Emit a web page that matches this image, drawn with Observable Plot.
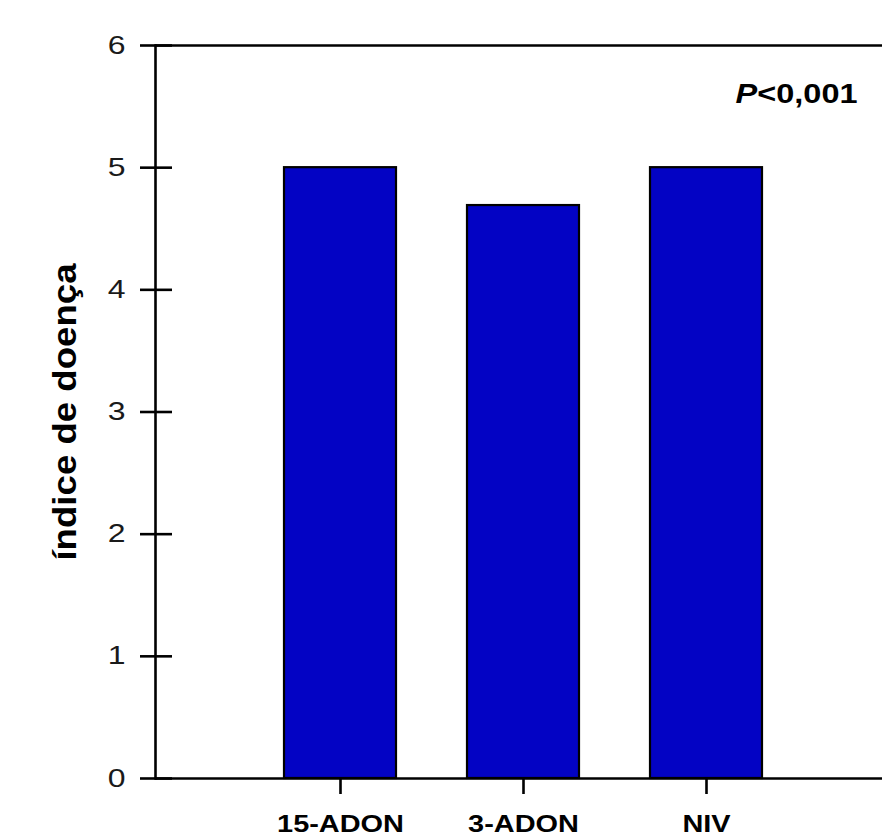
<!DOCTYPE html>
<html><head><meta charset="utf-8">
<script src="https://cdn.jsdelivr.net/npm/d3@7"></script>
<script src="https://cdn.jsdelivr.net/npm/@observablehq/plot@0.6"></script>
<style>
body{margin:0;background:#fff}
svg{font-family:"Liberation Sans",Arial,sans-serif}
</style>
</head><body><div id="chart"></div>
<script>
const categories = ["15-ADON", "3-ADON", "NIV"];
const values = [5.0, 4.69, 5.0];
const yTicks = [0, 1, 2, 3, 4, 5, 6];
const yLabel = "índice de doença";
const pLabel = "P<0,001";

const data = categories.map((c, i) => ({category: c, value: values[i]}));

const chart = Plot.plot({
  width: 882, height: 837,
  marginTop: 45, marginBottom: 59, marginLeft: 155, marginRight: 0,
  style: {fontFamily: '"Liberation Sans", Arial, sans-serif', background: "white", overflow: "visible"},
  x: {domain: categories, paddingInner: 0.39, paddingOuter: 0.676, align: 0.516, label: null},
  y: {domain: [0, 6], label: null},
  marks: [
    Plot.barY(data, {x: "category", y: "value", fill: "#0303c4", stroke: "#000", strokeWidth: 2.2}),
    Plot.ruleY([0, 6], {stroke: "#000", strokeWidth: 2.6}),
    Plot.frame({anchor: "left", stroke: "#000", strokeWidth: 2.6}),
    Plot.axisY(yTicks, {tickSize: 32, dx: 17, fill: "none", stroke: "#000", strokeWidth: 2.6}),
    Plot.axisY(yTicks, {tickSize: 0, tickPadding: 30, fontSize: 25, fill: "#1a1a1a", tickFormat: d => String(d)}),
    Plot.axisX({tickSize: 16, tickPadding: 20, fontSize: 24.5, fontWeight: "bold", fill: "#000", stroke: "#000", strokeWidth: 2.6}),
    Plot.text([yLabel], {text: d => d, frameAnchor: "left", rotate: -90, dx: -80, lineAnchor: "bottom", textAnchor: "middle", fontSize: 33, fontWeight: "bold", fill: "#000"}),
    Plot.text([pLabel], {text: d => d, frameAnchor: "top-right", dx: -25, dy: 38, lineAnchor: "top", textAnchor: "end", fontSize: 28, fontWeight: "bold", fill: "#000"})
  ]
});

document.getElementById("chart").appendChild(chart);

function stretchText(t, s) {
  const tr = t.getAttribute("transform") || "";
  t.setAttribute("transform", tr + ` scale(${s},1)`);
}
chart.querySelectorAll('g[aria-label="y-axis tick label"] text').forEach(t => stretchText(t, 1.28));
chart.querySelectorAll('g[aria-label="x-axis tick label"] text').forEach(t => stretchText(t, 1.18));
chart.querySelectorAll("text").forEach(t => {
  const s = t.textContent;
  if (s === yLabel) stretchText(t, 1.11);
  if (s === pLabel) {
    stretchText(t, 1.16);
    t.textContent = "";
    const a = document.createElementNS("http://www.w3.org/2000/svg", "tspan");
    a.setAttribute("font-style", "italic");
    a.textContent = s.slice(0, 1);
    const b = document.createElementNS("http://www.w3.org/2000/svg", "tspan");
    b.textContent = s.slice(1);
    t.appendChild(a); t.appendChild(b);
  }
});
</script>
</body></html>
